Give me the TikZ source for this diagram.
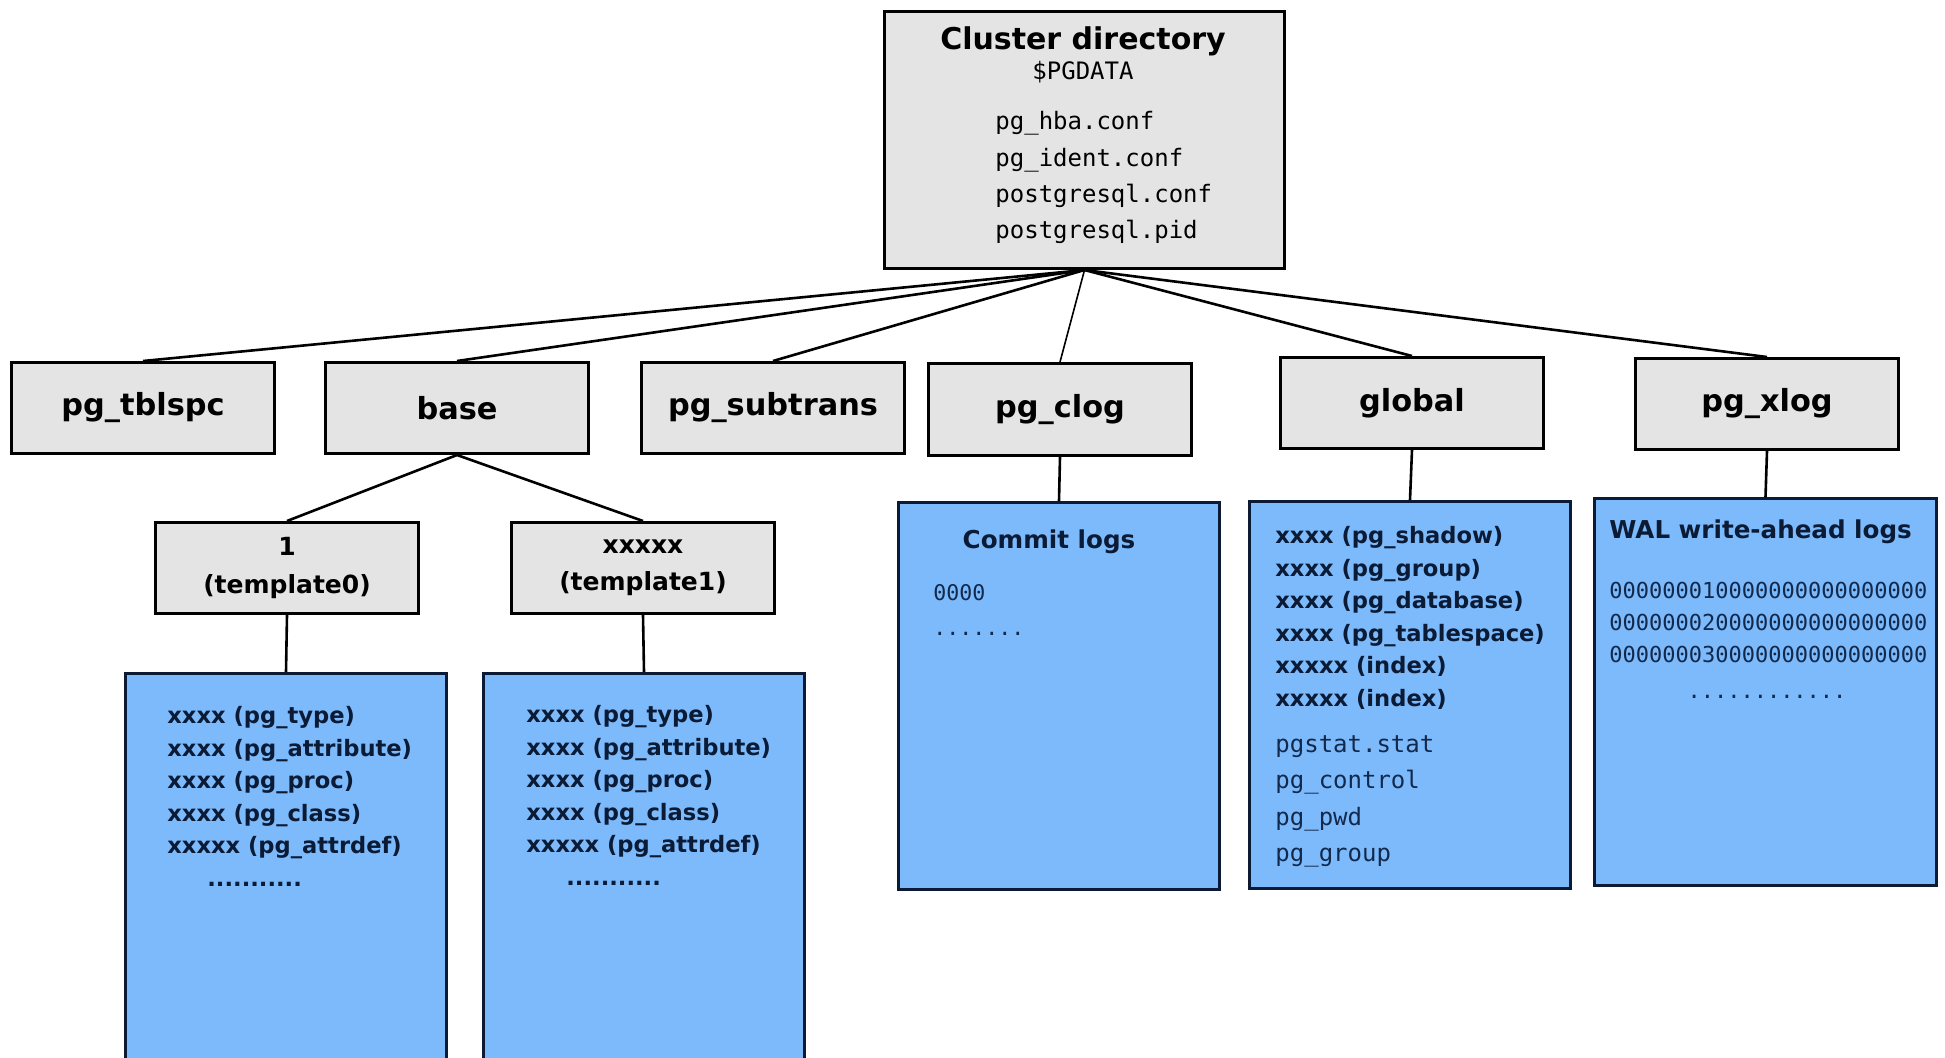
\documentclass[tikz,border=0pt]{standalone}
\usepackage{fontspec}
\setmainfont{DejaVu Sans}
\newfontfamily\pgmono{DejaVu Sans Mono}
\usetikzlibrary{positioning}
\definecolor{dirgray}{HTML}{E4E4E4}
\definecolor{fileblue}{HTML}{7CBAFB}
\definecolor{inkblue}{HTML}{0B1B36}
\definecolor{monoblue}{HTML}{12294C}

\begin{document}
\begin{tikzpicture}[x=0.5pt, y=-0.5pt, every node/.style={inner sep=0pt},
  dirbox/.style={draw, line width=1.5pt, fill=dirgray, anchor=north west, align=center,
    minimum width=131.5pt, minimum height=45.5pt, font=\fontsize{15.2}{18}\selectfont\bfseries},
  tmplbox/.style={dirbox, font=\fontsize{12.5}{18.6}\selectfont\bfseries},
  filebox/.style={draw=inkblue, line width=1.5pt, fill=fileblue, anchor=north west,
    minimum width=160.5pt, minimum height=193.5pt},
  boldlist/.style={anchor=north west, align=left, text=inkblue,
    font=\fontsize{11.3}{16.3}\selectfont\bfseries},
  monolist/.style={anchor=north west, align=left, text=monoblue,
    font=\fontsize{12}{18.2}\selectfont\pgmono},
  tree/.style={line width=1.3pt}]
\path[use as bounding box, fill=white] (0,0) rectangle (1945,1057);

\node[dirbox, minimum width=200pt, minimum height=128.5pt] (cluster) at (883,10) {};
\node[font=\fontsize{15}{18}\selectfont\bfseries] (clustertitle) at (1083,41) {Cluster directory};
\node[font=\fontsize{12}{14}\selectfont\pgmono] (pgdata) at (1083,72) {\$PGDATA};
\node[anchor=north west, align=left, font=\fontsize{12}{18.2}\selectfont\pgmono] (conffiles) at (995,111)
  {pg\_hba.conf\\pg\_ident.conf\\postgresql.conf\\postgresql.pid};

\node[dirbox] (tblspc) at (10,361) {pg\_tblspc};
\node[dirbox] (base) at (324,361) {base};
\node[dirbox] (subtrans) at (640,361) {pg\_subtrans};
\node[dirbox, minimum height=46pt] (clog) at (927,362) {pg\_clog};
\node[dirbox] (global) at (1279,356) {global};
\node[dirbox] (xlog) at (1634,357) {pg\_xlog};

\node[tmplbox] (tmplzero) at (154,521) {1\\(template0)};
\node[tmplbox] (tmplone) at (510,521) {xxxxx\\(template1)};

\node[filebox, minimum height=210pt] (zerofiles) at (124,672) {};
\node[filebox, minimum height=210pt] (onefiles) at (482,672) {};
\node[filebox] (clogfiles) at (897,501) {};
\node[filebox] (globalfiles) at (1248,500) {};
\node[filebox, minimum width=171pt] (xlogfiles) at (1593,497) {};

\node[boldlist] (zerolist) at (167,706) {xxxx (pg\_type)\\xxxx (pg\_attribute)\\xxxx (pg\_proc)\\
  xxxx (pg\_class)\\xxxxx (pg\_attrdef)\\\hspace*{20pt}...........};
\node[boldlist] (onelist) at (526,705) {xxxx (pg\_type)\\xxxx (pg\_attribute)\\xxxx (pg\_proc)\\
  xxxx (pg\_class)\\xxxxx (pg\_attrdef)\\\hspace*{20pt}...........};

\node[text=inkblue, font=\fontsize{12.3}{15}\selectfont\bfseries] (clogtitle) at (1049,542) {Commit logs};
\node[monolist, font=\fontsize{10.8}{15.5}\selectfont\pgmono] (clogsegs) at (933,584) {0000};
\node[anchor=west, text=monoblue, font=\fontsize{10.8}{15.5}\selectfont\pgmono] (clogdots) at (933,634) {.......};

\node[boldlist] (globalcat) at (1275,526) {xxxx (pg\_shadow)\\xxxx (pg\_group)\\xxxx (pg\_database)\\
  xxxx (pg\_tablespace)\\xxxxx (index)\\xxxxx (index)};
\node[monolist] (globalmisc) at (1275,735) {pgstat.stat\\pg\_control\\pg\_pwd\\pg\_group};

\node[anchor=west, text=inkblue, font=\fontsize{12.3}{15}\selectfont\bfseries] (xlogtitle) at (1609,532) {WAL write-ahead logs};
\node[monolist, font=\fontsize{11}{16}\selectfont\pgmono] (walsegs) at (1609,582)
  {000000010000000000000000\\000000020000000000000000\\000000030000000000000000};
\node[text=monoblue, font=\fontsize{11}{16}\selectfont\pgmono] (waldots) at (1767,697) {............};

\foreach \d in {tblspc,base,subtrans,global,xlog}
  \draw[tree] (cluster.south) -- (\d.north);
\draw[tree, line width=0.8pt] (cluster.south) -- (clog.north);
\draw[tree] (base.south) -- (tmplzero.north);
\draw[tree] (base.south) -- (tmplone.north);
\draw[tree] (tmplzero.south) -- (zerofiles.north);
\draw[tree] (tmplone.south) -- (onefiles.north);
\draw[tree] (clog.south) -- (clogfiles.north);
\draw[tree] (global.south) -- (globalfiles.north);
\draw[tree] (xlog.south) -- (xlogfiles.north);
\end{tikzpicture}
\end{document}
